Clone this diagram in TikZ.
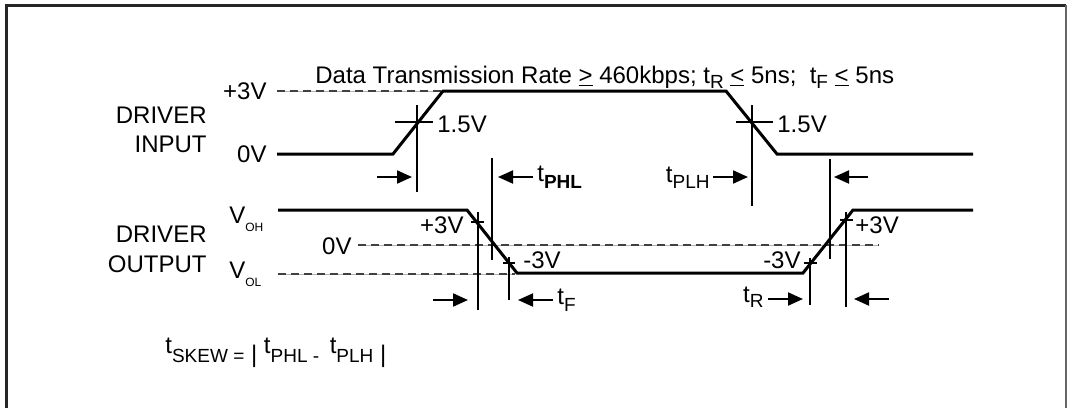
\documentclass[tikz,border=0pt]{standalone}
\usepackage{fontspec}
\setmainfont{Liberation Sans}
\usetikzlibrary{arrows.meta}

\newcommand{\tsb}[2][2.5]{t\raisebox{-#1pt}{\fontsize{9.5}{10}\selectfont #2}}
\newcommand{\vsb}[1]{V\raisebox{-4pt}{\fontsize{6}{6}\selectfont #1}}

\tikzstyle{sig}=[line width=1.5pt, line join=miter]
\tikzstyle{rl}=[line width=0.6pt]
\tikzstyle{lvl}=[line width=0.55pt, draw=black!75, dash pattern=on 4pt off 2.5pt, preaction={draw, solid, black!30, line width=0.45pt}]
\tikzstyle{tA}=[line width=1pt, -{Triangle[length=7.5pt,width=6.5pt]}]
\tikzstyle{lS}=[inner sep=0pt, font=\fontsize{12}{14.5}\selectfont]
\tikzstyle{fr}=[line width=1.5pt, draw=black!85]

\begin{document}
\begin{tikzpicture}[x=0.5pt,y=-0.5pt]%[1 unit = 1 px]
                \useasboundingbox (0,0) rectangle (1067,408);
                \draw[fr] (6,408) -- (6,5) -- (1066,5);
                \draw[fr, draw=black!60, line width=1pt] (1066,5) -- (1066,408);

                % levels
                \draw[lvl] (277,91) -- (443,91);
                \draw[lvl] (358,245) -- (879,245);
                \draw[lvl] (278,274) -- (515,274);

                % driver input
                \coordinate (i0) at (277,154);
                \coordinate (i1) at (393,154);
                \coordinate (i2) at (443,91);
                \coordinate (i3) at (726,91);
                \coordinate (i4) at (777,154);
                \coordinate (i5) at (973,154);
                \draw[sig] (i0) -- (i1) -- (i2) -- (i3) -- (i4) -- (i5);

                % driver output
                \coordinate (o0) at (278,210);
                \coordinate (o1) at (467,210);
                \coordinate (o2) at (517,273);
                \coordinate (o3) at (803,273);
                \coordinate (o4) at (853,210);
                \coordinate (o5) at (973,210);
                \draw[sig] (o0) -- (o1) -- (o2) -- (o3) -- (o4) -- (o5);

                % crossing marks
                \draw[rl] (395,122) -- (433,122) (417,105) -- (417,192);
                \draw[rl] (736,122) -- (773,122) (752,105) -- (752,206);
                \draw[rl] (492,158) -- (492,260);
                \draw[rl] (830,159) -- (830,259);
                \draw[rl] (471,222) -- (484,222) (478,212) -- (478,310);
                \draw[rl] (503,263) -- (515,263) (509,257) -- (509,300);
                \draw[rl] (804,263) -- (817,263) (810,258) -- (810,305);
                \draw[rl] (840,220) -- (853,220) (846,212) -- (846,307);

                % labels
                \draw (315,83) node[lS, anchor=base west] (hdr) {Data Transmission Rate \underline{>} 460kbps; \tsb{R} \underline{<} 5ns;~ \tsb{F} \underline{<} 5ns};
                \draw (207,123) node[lS, anchor=base east] (dIn) {DRIVER};
                \draw (207,152) node[lS, anchor=base east] (dIn2) {INPUT};
                \draw (207,242) node[lS, anchor=base east] (dOut) {DRIVER};
                \draw (207,272) node[lS, anchor=base east] (dOut2) {OUTPUT};
                \draw (267,91) node[lS, anchor=east] (pIn) {+3V};
                \draw (267,154) node[lS, anchor=east] (zIn) {0V};
                \draw (229,223) node[lS, anchor=base west] (voh) {\vsb{OH}};
                \draw (229,278) node[lS, anchor=base west] (vol) {\vsb{OL}};
                \draw (352,246) node[lS, anchor=east] (zOut) {0V};
                \draw (437,132) node[lS, anchor=base west] (hR) {1.5V};
                \draw (777,132) node[lS, anchor=base west] (hF) {1.5V};
                \draw (464,233) node[lS, anchor=base east] (pF) {+3V};
                \draw (523,268) node[lS, anchor=base west] (mF) {-3V};
                \draw (801,268) node[lS, anchor=base east] (mR) {-3V};
                \draw (855,233) node[lS, anchor=base west] (pR) {+3V};
                \draw (537,181) node[lS, anchor=base west] (tphl) {\tsb[3.5]{\bfseries PHL}};
                \draw (710,182) node[lS, anchor=base east] (tplh) {\tsb[3]{PLH}};
                \draw (557,304) node[lS, anchor=base west] (tf) {\tsb[3.5]{F}};
                \draw (764,302) node[lS, anchor=base east] (tr) {\tsb[2.5]{R}};
                \draw (165,353) node[lS, anchor=base west] (tsk) {\tsb[4.5]{SKEW =} \raisebox{-4.5pt}{| }\tsb[4.5]{PHL -~ }\tsb[4.5]{PLH}\raisebox{-4.5pt}{ |}};

                % timing arrows
                \coordinate (a1) at (377,177);  \coordinate (a1e) at (412,177);
                \coordinate (a2) at (533,177);  \coordinate (a2e) at (498,177);
                \coordinate (a3) at (713,177);  \coordinate (a3e) at (748,177);
                \coordinate (a4) at (868,177);  \coordinate (a4e) at (834,177);
                \coordinate (b1) at (433,300);  \coordinate (b1e) at (468,300);
                \coordinate (b2) at (553,300);  \coordinate (b2e) at (518,300);
                \coordinate (b3) at (768,299);  \coordinate (b3e) at (803,299);
                \coordinate (b4) at (889,299);  \coordinate (b4e) at (854,299);
                \path
                    (a1) edge[tA] (a1e)
                    (a2) edge[tA] (a2e)
                    (a3) edge[tA] (a3e)
                    (a4) edge[tA] (a4e)
                    (b1) edge[tA] (b1e)
                    (b2) edge[tA] (b2e)
                    (b3) edge[tA] (b3e)
                    (b4) edge[tA] (b4e)
                ;
        \end{tikzpicture}
\end{document}
